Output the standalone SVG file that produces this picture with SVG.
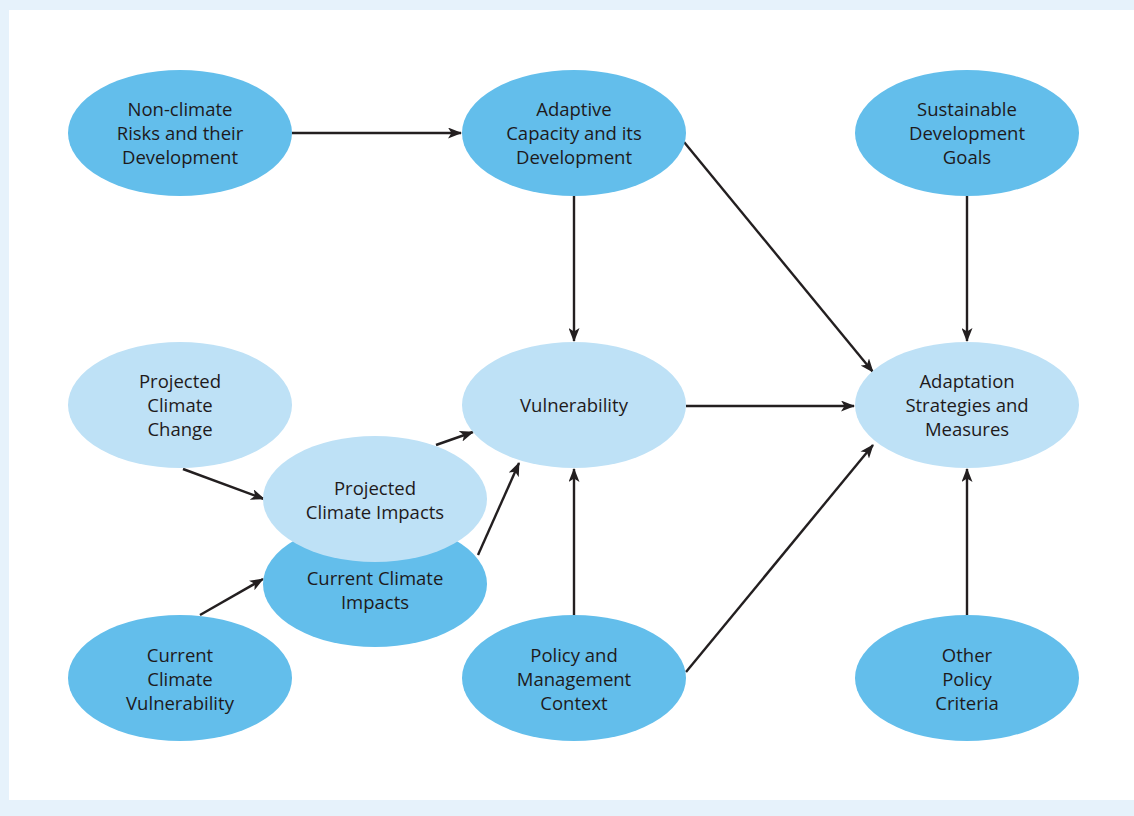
<svg xmlns="http://www.w3.org/2000/svg" width="1134" height="816" viewBox="0 0 1134 816">
<style>
.dark{fill:#63BEEB}
.light{fill:#BEE1F6}
.t{font-family:"Open Sans","Liberation Sans",sans-serif;font-size:18.5px;fill:#1E1A1B;text-anchor:middle}
.c{stroke:#231F20;stroke-width:2.4;fill:none;marker-end:url(#ah)}
</style>
<defs>
<marker id="ah" viewBox="0 0 14 11" refX="13" refY="5.5" markerWidth="14" markerHeight="11" markerUnits="userSpaceOnUse" orient="auto">
<path d="M0,0 L14,5.5 L0,11 L3.5,5.5 Z" fill="#231F20"/>
</marker>
</defs>
<rect x="0" y="0" width="1134" height="816" fill="#E6F2FB"/>
<rect x="9" y="10" width="1125" height="790" fill="#FFFFFF"/>
<g id="connectors">
<line class="c" x1="292" y1="133" x2="461" y2="133"/>
<line class="c" x1="574" y1="196" x2="574" y2="341"/>
<line class="c" x1="684" y1="142" x2="873" y2="372"/>
<line class="c" x1="967" y1="196" x2="967" y2="341"/>
<line class="c" x1="686" y1="406" x2="854" y2="406"/>
<line class="c" x1="686" y1="672" x2="873" y2="445"/>
<line class="c" x1="967" y1="615" x2="967" y2="469"/>
<line class="c" x1="574" y1="615" x2="574" y2="469"/>
<line class="c" x1="183" y1="469" x2="264" y2="499"/>
<line class="c" x1="436" y1="445" x2="473" y2="432"/>
<line class="c" x1="478" y1="555" x2="519" y2="463"/>
<line class="c" x1="200" y1="615" x2="263" y2="579"/>
</g>
<g id="non-climate"><ellipse class="dark" cx="180" cy="133" rx="112" ry="63"/><text class="t" x="180" y="116">Non-climate</text><text class="t" x="180" y="140">Risks and their</text><text class="t" x="180" y="164">Development</text></g>
<g id="adaptive-capacity"><ellipse class="dark" cx="574" cy="133" rx="112" ry="63"/><text class="t" x="574" y="116">Adaptive</text><text class="t" x="574" y="140">Capacity and its</text><text class="t" x="574" y="164">Development</text></g>
<g id="sustainable-development"><ellipse class="dark" cx="967" cy="133" rx="112" ry="63"/><text class="t" x="967" y="116">Sustainable</text><text class="t" x="967" y="140">Development</text><text class="t" x="967" y="164">Goals</text></g>
<g id="projected-climate-change"><ellipse class="light" cx="180" cy="405" rx="112" ry="63"/><text class="t" x="180" y="388">Projected</text><text class="t" x="180" y="412">Climate</text><text class="t" x="180" y="436">Change</text></g>
<g id="vulnerability"><ellipse class="light" cx="574" cy="405" rx="112" ry="63"/><text class="t" x="574" y="412">Vulnerability</text></g>
<g id="adaptation-strategies"><ellipse class="light" cx="967" cy="405" rx="112" ry="63"/><text class="t" x="967" y="388">Adaptation</text><text class="t" x="967" y="412">Strategies and</text><text class="t" x="967" y="436">Measures</text></g>
<g id="current-climate-impacts"><ellipse class="dark" cx="375" cy="584" rx="112" ry="63"/><text class="t" x="375" y="585">Current Climate</text><text class="t" x="375" y="609">Impacts</text></g>
<g id="projected-climate-impacts"><ellipse class="light" cx="375" cy="499" rx="112" ry="63"/><text class="t" x="375" y="495">Projected</text><text class="t" x="375" y="519">Climate Impacts</text></g>
<g id="current-climate-vulnerability"><ellipse class="dark" cx="180" cy="678" rx="112" ry="63"/><text class="t" x="180" y="662">Current</text><text class="t" x="180" y="686">Climate</text><text class="t" x="180" y="710">Vulnerability</text></g>
<g id="policy-management"><ellipse class="dark" cx="574" cy="678" rx="112" ry="63"/><text class="t" x="574" y="662">Policy and</text><text class="t" x="574" y="686">Management</text><text class="t" x="574" y="710">Context</text></g>
<g id="other-policy"><ellipse class="dark" cx="967" cy="678" rx="112" ry="63"/><text class="t" x="967" y="662">Other</text><text class="t" x="967" y="686">Policy</text><text class="t" x="967" y="710">Criteria</text></g>
</svg>
